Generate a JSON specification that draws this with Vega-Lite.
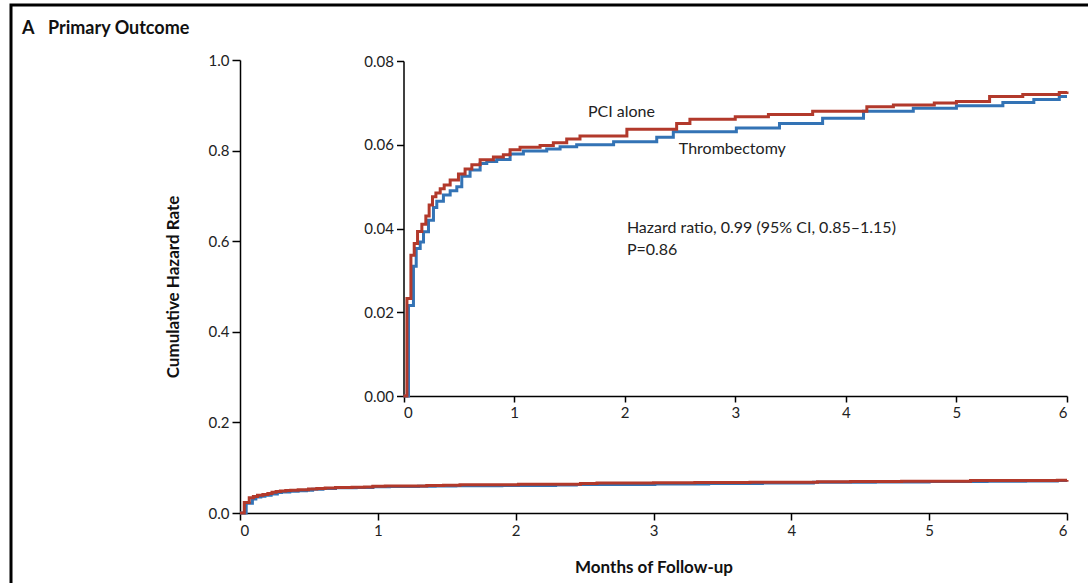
{
  "$schema": "https://vega.github.io/schema/vega-lite/v6.json",
  "width": 1097,
  "height": 598,
  "autosize": {"type": "none"},
  "padding": {"left": 11, "top": 5, "right": -20, "bottom": -20},
  "background": "white",
  "config": {
    "font": "Lato",
    "view": {"stroke": "black", "strokeWidth": 3},
    "axis": {
      "grid": false,
      "domainColor": "#000",
      "domainWidth": 1.5,
      "tickColor": "#000",
      "tickWidth": 1.5,
      "labelColor": "#222",
      "labelFont": "Lato",
      "labelFontSize": 15,
      "titleFont": "Lato",
      "titleFontSize": 17,
      "titleFontWeight": "bold",
      "titleColor": "#111"
    }
  },
  "title": {
    "text": "A\u2003Primary Outcome",
    "anchor": "start",
    "frame": "group",
    "font": "Lato",
    "fontSize": 18,
    "fontWeight": "bold",
    "color": "#111",
    "baseline": "middle",
    "offset": -42,
    "dx": 11
  },
  "datasets": {
    "curves": [
      {"group": "Thrombectomy", "t": 0, "v": 0},
      {"group": "Thrombectomy", "t": 0.045, "v": 0.0216},
      {"group": "Thrombectomy", "t": 0.09, "v": 0.031},
      {"group": "Thrombectomy", "t": 0.115, "v": 0.0352},
      {"group": "Thrombectomy", "t": 0.151, "v": 0.0368},
      {"group": "Thrombectomy", "t": 0.181, "v": 0.0392},
      {"group": "Thrombectomy", "t": 0.226, "v": 0.042},
      {"group": "Thrombectomy", "t": 0.271, "v": 0.045},
      {"group": "Thrombectomy", "t": 0.301, "v": 0.0465},
      {"group": "Thrombectomy", "t": 0.361, "v": 0.048},
      {"group": "Thrombectomy", "t": 0.422, "v": 0.049},
      {"group": "Thrombectomy", "t": 0.482, "v": 0.05},
      {"group": "Thrombectomy", "t": 0.527, "v": 0.0525},
      {"group": "Thrombectomy", "t": 0.602, "v": 0.054},
      {"group": "Thrombectomy", "t": 0.693, "v": 0.0555},
      {"group": "Thrombectomy", "t": 0.753, "v": 0.056},
      {"group": "Thrombectomy", "t": 0.843, "v": 0.0565},
      {"group": "Thrombectomy", "t": 0.964, "v": 0.0578},
      {"group": "Thrombectomy", "t": 1.084, "v": 0.0585},
      {"group": "Thrombectomy", "t": 1.295, "v": 0.059},
      {"group": "Thrombectomy", "t": 1.416, "v": 0.0595},
      {"group": "Thrombectomy", "t": 1.566, "v": 0.06},
      {"group": "Thrombectomy", "t": 1.9, "v": 0.0607},
      {"group": "Thrombectomy", "t": 2.29, "v": 0.0618},
      {"group": "Thrombectomy", "t": 2.44, "v": 0.0631},
      {"group": "Thrombectomy", "t": 3.01, "v": 0.064},
      {"group": "Thrombectomy", "t": 3.4, "v": 0.0651},
      {"group": "Thrombectomy", "t": 3.79, "v": 0.0663},
      {"group": "Thrombectomy", "t": 4.16, "v": 0.068},
      {"group": "Thrombectomy", "t": 4.61, "v": 0.0687},
      {"group": "Thrombectomy", "t": 5.0, "v": 0.0693},
      {"group": "Thrombectomy", "t": 5.42, "v": 0.0701},
      {"group": "Thrombectomy", "t": 5.7, "v": 0.0708},
      {"group": "Thrombectomy", "t": 5.93, "v": 0.0715},
      {"group": "Thrombectomy", "t": 6.0, "v": 0.0715},
      {"group": "PCI alone", "t": 0, "v": 0},
      {"group": "PCI alone", "t": 0.031, "v": 0.0233},
      {"group": "PCI alone", "t": 0.067, "v": 0.0336},
      {"group": "PCI alone", "t": 0.097, "v": 0.0364},
      {"group": "PCI alone", "t": 0.127, "v": 0.0393},
      {"group": "PCI alone", "t": 0.166, "v": 0.041},
      {"group": "PCI alone", "t": 0.202, "v": 0.043},
      {"group": "PCI alone", "t": 0.232, "v": 0.0456},
      {"group": "PCI alone", "t": 0.262, "v": 0.0476},
      {"group": "PCI alone", "t": 0.293, "v": 0.0485},
      {"group": "PCI alone", "t": 0.332, "v": 0.0495},
      {"group": "PCI alone", "t": 0.368, "v": 0.0504},
      {"group": "PCI alone", "t": 0.422, "v": 0.0516},
      {"group": "PCI alone", "t": 0.497, "v": 0.053},
      {"group": "PCI alone", "t": 0.557, "v": 0.0542},
      {"group": "PCI alone", "t": 0.618, "v": 0.0552},
      {"group": "PCI alone", "t": 0.693, "v": 0.0564},
      {"group": "PCI alone", "t": 0.813, "v": 0.0571},
      {"group": "PCI alone", "t": 0.903, "v": 0.0576},
      {"group": "PCI alone", "t": 0.964, "v": 0.0588},
      {"group": "PCI alone", "t": 1.054, "v": 0.0594},
      {"group": "PCI alone", "t": 1.235, "v": 0.0598},
      {"group": "PCI alone", "t": 1.355, "v": 0.0605},
      {"group": "PCI alone", "t": 1.476, "v": 0.0614},
      {"group": "PCI alone", "t": 1.596, "v": 0.0621},
      {"group": "PCI alone", "t": 2.02, "v": 0.0637},
      {"group": "PCI alone", "t": 2.47, "v": 0.0651},
      {"group": "PCI alone", "t": 2.59, "v": 0.0661},
      {"group": "PCI alone", "t": 3.0, "v": 0.0667},
      {"group": "PCI alone", "t": 3.3, "v": 0.0672},
      {"group": "PCI alone", "t": 3.7, "v": 0.068},
      {"group": "PCI alone", "t": 4.19, "v": 0.0691},
      {"group": "PCI alone", "t": 4.43, "v": 0.0695},
      {"group": "PCI alone", "t": 4.8, "v": 0.07},
      {"group": "PCI alone", "t": 5.0, "v": 0.0703},
      {"group": "PCI alone", "t": 5.3, "v": 0.0715},
      {"group": "PCI alone", "t": 5.6, "v": 0.072},
      {"group": "PCI alone", "t": 5.93, "v": 0.0725},
      {"group": "PCI alone", "t": 6.0, "v": 0.0727}
    ],
    "notes": [
      {"t": 1.668, "v": 0.0678, "label": "PCI alone"},
      {"t": 2.49, "v": 0.059, "label": "Thrombectomy"},
      {"t": 2.02, "v": 0.0401, "label": "Hazard ratio, 0.99 (95% CI, 0.85–1.15)"},
      {"t": 2.02, "v": 0.0349, "label": "P=0.86"}
    ]
  },
  "layer": [
    {
      "data": {"name": "curves"},
      "mark": {"type": "line", "interpolate": "step-after", "strokeWidth": 3},
      "encoding": {
        "x": {
          "field": "t", "type": "quantitative",
          "scale": {"domain": [0, 6], "range": [229, 1056], "nice": false, "zero": false},
          "axis": {"orient": "bottom", "offset": -90, "values": [0, 1, 2, 3, 4, 5, 6], "format": "d", "tickSize": 7, "labelPadding": 3, "title": "Months of Follow-up", "titlePadding": 21}
        },
        "y": {
          "field": "v", "type": "quantitative",
          "scale": {"domain": [0, 1], "range": [508, 55], "nice": false},
          "axis": {"orient": "left", "offset": -229, "values": [0, 0.2, 0.4, 0.6, 0.8, 1.0], "format": ".1f", "tickSize": 8, "labelPadding": 3, "title": "Cumulative Hazard Rate", "titlePadding": 26}
        },
        "color": {
          "field": "group", "type": "nominal",
          "scale": {"domain": ["Thrombectomy", "PCI alone"], "range": ["#3373b5", "#b2392b"]},
          "legend": null
        }
      }
    },
    {
      "encoding": {
        "x": {
          "field": "t", "type": "quantitative",
          "scale": {"domain": [0, 6], "range": [392.5, 1056], "nice": false, "zero": false},
          "axis": {"orient": "bottom", "offset": -207, "values": [0, 1, 2, 3, 4, 5, 6], "format": "d", "tickSize": 6, "labelPadding": 3, "title": null}
        },
        "y": {
          "field": "v", "type": "quantitative",
          "scale": {"domain": [0, 0.08], "range": [391, 56], "nice": false},
          "axis": {"orient": "left", "offset": -392.5, "values": [0, 0.02, 0.04, 0.06, 0.08], "format": ".2f", "tickSize": 7, "labelPadding": 3, "title": null}
        }
      },
      "layer": [
        {
          "data": {"name": "curves"},
          "mark": {"type": "line", "interpolate": "step-after", "strokeWidth": 3},
          "encoding": {
            "color": {
              "field": "group", "type": "nominal",
              "scale": {"domain": ["Thrombectomy", "PCI alone"], "range": ["#3373b5", "#b2392b"]},
              "legend": null
            }
          }
        },
        {
          "data": {"name": "notes"},
          "mark": {"type": "text", "align": "left", "baseline": "middle", "font": "Lato", "fontSize": 16, "color": "#222"},
          "encoding": {"text": {"field": "label", "type": "nominal"}}
        }
      ]
    }
  ],
  "resolve": {
    "scale": {"x": "independent", "y": "independent"},
    "axis": {"x": "independent", "y": "independent"}
  }
}
